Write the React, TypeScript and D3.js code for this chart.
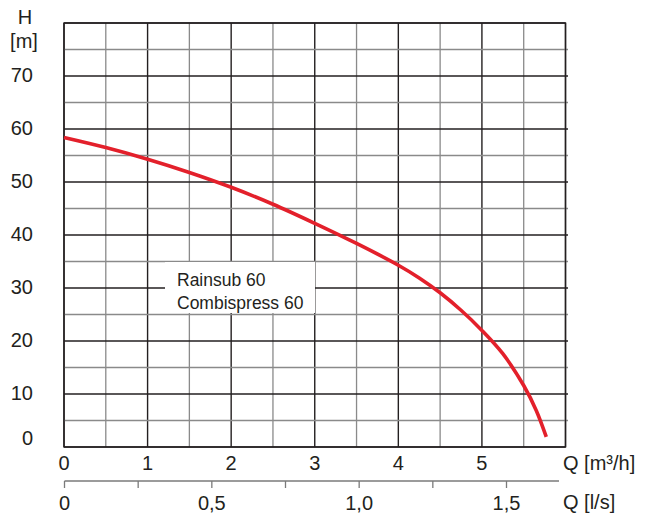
import React from "react";
import * as d3 from "d3";

const qM3h = [0, 0.5, 1, 1.5, 2, 2.5, 3, 3.5, 4, 4.25, 4.5, 4.75, 5, 5.25, 5.5, 5.65, 5.77];
const headM = [58.4, 56.5, 54.3, 51.8, 49.0, 45.8, 42.2, 38.4, 34.3, 31.9, 29.1, 25.8, 22.0, 17.6, 11.6, 6.9, 1.9];
const yTicks = [0, 10, 20, 30, 40, 50, 60, 70];
const xTicks = [0, 1, 2, 3, 4, 5];
const lsTicks = [0, 0.25, 0.5, 0.75, 1.0, 1.25, 1.5];
const lsLabels = ["0", "0,5", "1,0", "1,5"];
const lsLabelVals = [0, 0.5, 1.0, 1.5];
const legendLines = ["Rainsub 60", "Combispress 60"];

export default function App() {
  const x = d3.scaleLinear().domain([0, 6]).range([64, 565.5]);
  const y = d3.scaleLinear().domain([0, 80]).range([447, 23]);
  const xls = d3.scaleLinear().domain([0, 1.5]).range([64.5, 506.5]);
  const font = "'Liberation Sans', Arial, sans-serif";
  const txt = "#231f20";

  const vGrid = d3.range(0, 6.01, 0.5);
  const hGrid = d3.range(0, 80.01, 5);

  const line = d3
    .line<number>()
    .x((_, i) => x(qM3h[i]))
    .y((d) => y(d))
    .curve(d3.curveCatmullRom.alpha(0.5));

  return (
    <svg width={646} height={518} style={{ position: "absolute", left: 0, top: 0, background: "#fff" }}>
      <rect x={0} y={0} width={646} height={518} fill="#fff" />
      {vGrid.map((v) => {
        const major = Math.abs(v - Math.round(v)) < 1e-6;
        return (
          <line
            key={"v" + v}
            x1={x(v)}
            x2={x(v)}
            y1={y(80)}
            y2={y(0)}
            stroke={major ? "#231f20" : "#8a8a8a"}
            strokeWidth={major ? 1.4 : 1.3}
          />
        );
      })}
      {hGrid.map((h) => {
        const major = h % 10 === 0;
        return (
          <line
            key={"h" + h}
            x1={x(0)}
            x2={x(6) + (h === 0 || h === 80 ? 0 : 2.5)}
            y1={y(h)}
            y2={y(h)}
            stroke={major ? "#231f20" : "#8a8a8a"}
            strokeWidth={major ? 1.4 : 1.3}
          />
        );
      })}
      <rect x={x(0)} y={y(80)} width={x(6) - x(0)} height={y(0) - y(80)} fill="none" stroke="#231f20" strokeWidth={1.4} />

      <rect x={165} y={262} width={150} height={51} fill="#fff" />
      {legendLines.map((t, i) => (
        <text key={t} x={177} y={286 + i * 23} fontFamily={font} fontSize={17.5} fill={txt}>
          {t}
        </text>
      ))}

      <path d={line(headM) || ""} fill="none" stroke="#e3202b" strokeWidth={3.6} />

      {yTicks.map((t) => (
        <text
          key={"yl" + t}
          x={33}
          y={t === 0 ? y(0) - 9 : y(t) - 1}
          textAnchor="end"
          dominantBaseline="central"
          fontFamily={font}
          fontSize={20}
          fill={txt}
        >
          {t}
        </text>
      ))}
      <text x={25} y={17} textAnchor="middle" dominantBaseline="central" fontFamily={font} fontSize={20} fill={txt}>
        H
      </text>
      <text x={24} y={41} textAnchor="middle" dominantBaseline="central" fontFamily={font} fontSize={20} fill={txt}>
        [m]
      </text>

      {xTicks.map((t) => (
        <text key={"xl" + t} x={x(t)} y={470} textAnchor="middle" fontFamily={font} fontSize={20} fill={txt}>
          {t}
        </text>
      ))}
      <text x={563} y={470} fontFamily={font} fontSize={20} fill={txt}>
        Q [m³/h]
      </text>

      <line x1={xls(0)} x2={559} y1={481} y2={481} stroke="#7a7a7a" strokeWidth={1.3} />
      {lsTicks.map((t) => (
        <line key={"lt" + t} x1={xls(t)} x2={xls(t)} y1={481} y2={488} stroke="#7a7a7a" strokeWidth={1.3} />
      ))}
      {lsLabelVals.map((t, i) => (
        <text key={"ll" + t} x={xls(t)} y={510} textAnchor="middle" fontFamily={font} fontSize={20} fill={txt}>
          {lsLabels[i]}
        </text>
      ))}
      <text x={563} y={509} fontFamily={font} fontSize={20} fill={txt}>
        Q [l/s]
      </text>
    </svg>
  );
}
